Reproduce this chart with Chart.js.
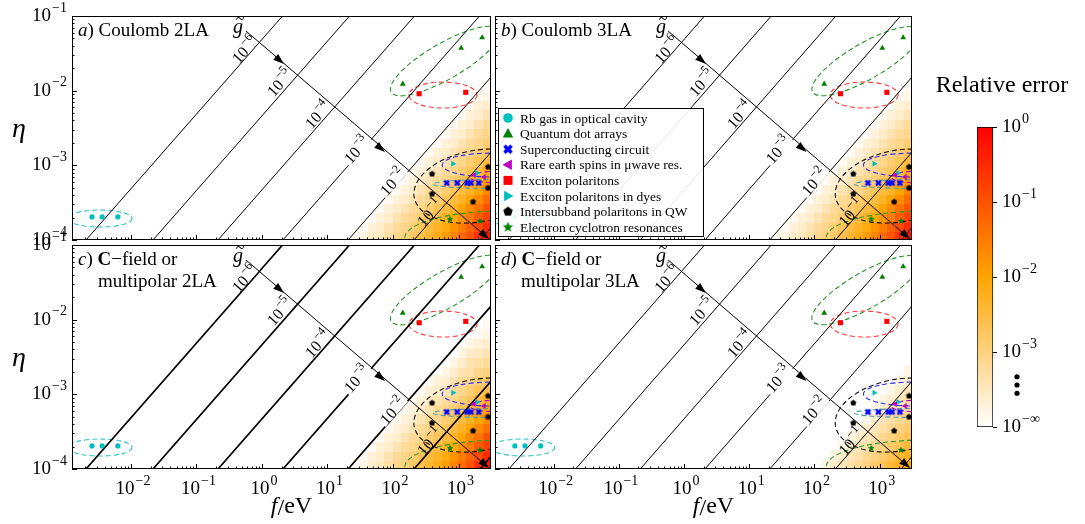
<!DOCTYPE html>
<html>
<head>
<meta charset="utf-8">
<script src="https://cdn.jsdelivr.net/npm/chart.js@4/dist/chart.umd.min.js"></script>
<style>
  body { margin: 0; background: #fff; }
  #wrap { position: relative; width: 1085px; height: 524px; }
  canvas { position: absolute; left: 0; top: 0; }
</style>
</head>
<body>
<div id="wrap">
  <canvas id="pa" width="1085" height="524"></canvas>
  <canvas id="pb" width="1085" height="524"></canvas>
  <canvas id="pc" width="1085" height="524"></canvas>
  <canvas id="pd" width="1085" height="524"></canvas>
  <canvas id="cb" width="1085" height="524"></canvas>
</div>
<script>
// axis ranges
const fMin = 1.26e-3, fMax = 3.13e3, etaMin = 1e-4, etaMax = 1e-1;
const xTickExp = [-2, -1, 0, 1, 2, 3];
const yTickExp = [-1, -2, -3, -4];

// g~ contour lines (endpoints at eta = 1e-4 and eta = 1e-1)
const gLineFBottom = [2.06e-3, 2.17e-2, 0.213, 2.09, 20.6, 209, 2130];
const gLineFTop = [2.06, 21.7, 213, 2090, 20600, 209000, 2130000];
const gLabelExp = ['−6', '−5', '−4', '−3', '−2', '−1'];
const gLabelF = [0.55, 1.88, 7.16, 28.2, 100, 367];
const gLabelEta = [3.51e-2, 1.27e-2, 4.72e-3, 1.6e-3, 5.98e-4, 2.3e-4];
const gLabelGap = [true, true, true, true, true, false];

// arrow of increasing g~
const arrowF = [0.57, 2925];
const arrowEta = [0.063, 1.03e-4];
const arrowHeadF = [2.17, 75.5, 2925];
const arrowHeadEta = [0.0228, 1.51e-3, 1.03e-4];

// experiments (f in eV, eta)
const seriesNames = ['Rb gas in optical cavity', 'Quantum dot arrays', 'Superconducting circuit',
  'Rare earth spins in μwave res.', 'Exciton polaritons', 'Exciton polaritons in dyes',
  'Intersubband polaritons in QW', 'Electron cyclotron resonances'];
const rbF = [2.54e-3, 3.63e-3, 6.31e-3], rbEta = [2.04e-4, 2.04e-4, 2.04e-4];
const qdF = [141, 1096, 2291], qdEta = [1.23e-2, 3.72e-2, 5.13e-2];
const scF = [661, 955, 1349, 1549, 2042], scEta = [5.8e-4, 5.8e-4, 5.8e-4, 5.8e-4, 5.8e-4];
const reF = [1726, 2449], reEta = [7.4e-4, 7.0e-4];
const exF = [251, 1288], exEta = [9.1e-3, 9.5e-3];
const dyF = [824, 1914], dyEta = [1.05e-3, 7.9e-4];
const isbF = [394, 394, 1663, 2818, 2818], isbEta = [7.66e-4, 4.13e-4, 3.24e-4, 9.5e-4, 4.98e-4];
const ecrF = [741, 2128], ecrEta = [1.9e-4, 1.8e-4];

// dashed ellipses: centre f, centre eta, half axes in decades, angle (deg)
const ellF = [3.37e-3, 622, 579, 1986, 3243, 3606, 4266, 5129];
const ellEta = [1.94e-4, 0.0249, 8.75e-3, 5.28e-4, 1.01e-3, 5.62e-4, 6.98e-4, 1.07e-4];
const ellRx = [0.49, 0.95, 0.52, 0.99, 0.76, 0.95, 0.46, 1.53];
const ellRy = [0.114, 0.24, 0.174, 0.48, 0.16, 0.06, 0.08, 0.36];
const ellAng = [0, -30, 0, -10, 0, 0, 0, 0];
const ellColor = ['#33c4c4', '#2a962a', '#ff3a3a', '#111111', '#2a2aff', '#4f9cab', '#c000c0', '#2a962a'];

// relative error maps, log10 values; one row per eta band (from 1e-4 up),
// each row lists the non-zero cells ending at the right edge of the plot
const heatFEdges = [13.3, 17.8, 23.7, 31.6, 42.2, 56.2, 75.0, 100, 133, 178, 237, 316, 422, 562, 750, 1000, 1334, 1778, 2371, 3162];
const heatEtaEdges = [1e-4, 1.33e-4, 1.78e-4, 2.37e-4, 3.16e-4, 4.22e-4, 5.62e-4, 7.5e-4, 1e-3, 1.33e-3,
  1.78e-3, 2.37e-3, 3.16e-3, 4.22e-3, 5.62e-3, 7.5e-3, 1e-2, 1.33e-2, 1.78e-2, 2.37e-2];
const heatA = [
  [-3.9, -3.8, -3.6, -3.5, -3.3, -3.1, -3.0, -2.8, -2.6, -2.4, -2.2, -1.9, -1.6, -1.3, -1.0, -0.6, -0.2],
  [-3.9, -3.7, -3.6, -3.4, -3.2, -3.1, -2.9, -2.7, -2.5, -2.3, -2.1, -1.8, -1.5, -1.2, -0.9, -0.5],
  [-3.9, -3.7, -3.6, -3.4, -3.2, -3.1, -2.9, -2.7, -2.5, -2.3, -2.1, -1.8, -1.5, -1.1, -0.8],
  [-3.9, -3.7, -3.6, -3.4, -3.2, -3.1, -2.9, -2.7, -2.5, -2.3, -2.0, -1.7, -1.4, -1.0],
  [-3.9, -3.7, -3.6, -3.4, -3.2, -3.1, -2.9, -2.7, -2.5, -2.3, -2.0, -1.7, -1.3],
  [-3.9, -3.7, -3.6, -3.4, -3.2, -3.1, -2.9, -2.7, -2.5, -2.3, -2.0, -1.6],
  [-3.9, -3.7, -3.6, -3.4, -3.2, -3.1, -2.9, -2.7, -2.5, -2.3, -1.9],
  [-3.9, -3.7, -3.6, -3.4, -3.2, -3.1, -2.9, -2.7, -2.5, -2.2],
  [-3.9, -3.7, -3.6, -3.4, -3.2, -3.1, -2.9, -2.7, -2.5],
  [-3.9, -3.7, -3.6, -3.4, -3.2, -3.1, -2.9, -2.7],
  [-3.9, -3.7, -3.6, -3.4, -3.2, -3.1, -2.9],
  [-3.9, -3.7, -3.6, -3.4, -3.2, -3.1],
  [-3.9, -3.7, -3.6, -3.4, -3.2],
  [-3.9, -3.7, -3.6, -3.4],
  [-3.9, -3.7, -3.6],
  [-3.9, -3.8],
  [-3.9],
  [],
  []
];
const heatB = [
  [-3.9, -3.8, -3.6, -3.5, -3.3, -3.1, -3.0, -2.8, -2.6, -2.4, -2.2, -1.9, -1.6, -1.3, -1.0, -0.6, -0.2],
  [-3.9, -3.7, -3.6, -3.4, -3.2, -3.1, -2.9, -2.7, -2.5, -2.3, -2.1, -1.8, -1.5, -1.2, -0.9, -0.5],
  [-3.9, -3.7, -3.6, -3.4, -3.2, -3.1, -2.9, -2.7, -2.5, -2.3, -2.1, -1.8, -1.5, -1.1, -0.8],
  [-3.9, -3.7, -3.6, -3.4, -3.2, -3.1, -2.9, -2.7, -2.5, -2.3, -2.0, -1.7, -1.4, -1.0],
  [-3.9, -3.7, -3.6, -3.4, -3.2, -3.1, -2.9, -2.7, -2.5, -2.3, -2.0, -1.7, -1.3],
  [-3.9, -3.7, -3.6, -3.4, -3.2, -3.1, -2.9, -2.7, -2.5, -2.3, -2.0, -1.6],
  [-3.9, -3.7, -3.6, -3.4, -3.2, -3.1, -2.9, -2.7, -2.5, -2.3, -1.9],
  [-3.9, -3.7, -3.6, -3.4, -3.2, -3.1, -2.9, -2.7, -2.5, -2.2],
  [-3.9, -3.7, -3.6, -3.4, -3.2, -3.1, -2.9, -2.7, -2.5],
  [-3.9, -3.7, -3.6, -3.4, -3.2, -3.1, -2.9, -2.7],
  [-3.9, -3.7, -3.6, -3.4, -3.2, -3.1, -2.9],
  [-3.9, -3.7, -3.6, -3.4, -3.2, -3.1],
  [-3.9, -3.7, -3.6, -3.4, -3.2],
  [-3.9, -3.7, -3.6, -3.4],
  [-3.9, -3.7, -3.6],
  [-3.9, -3.8],
  [-3.9],
  [],
  []
];
const heatC = [
  [-3.9, -3.8, -3.6, -3.5, -3.3, -3.1, -3.0, -2.8, -2.6, -2.4, -2.2, -1.9, -1.6, -1.3, -1.0, -0.6, -0.2],
  [-3.9, -3.7, -3.6, -3.4, -3.2, -3.1, -2.9, -2.7, -2.5, -2.3, -2.1, -1.8, -1.5, -1.2, -0.9, -0.5],
  [-3.9, -3.7, -3.6, -3.4, -3.2, -3.1, -2.9, -2.7, -2.5, -2.3, -2.1, -1.8, -1.5, -1.1, -0.8],
  [-3.9, -3.7, -3.6, -3.4, -3.2, -3.1, -2.9, -2.7, -2.5, -2.3, -2.0, -1.7, -1.4, -1.0],
  [-3.9, -3.7, -3.6, -3.4, -3.2, -3.1, -2.9, -2.7, -2.5, -2.3, -2.0, -1.7, -1.4],
  [-3.9, -3.7, -3.6, -3.4, -3.2, -3.1, -2.9, -2.7, -2.5, -2.3, -2.0, -1.7],
  [-3.9, -3.7, -3.6, -3.4, -3.2, -3.1, -2.9, -2.7, -2.5, -2.3, -2.0],
  [-3.9, -3.7, -3.6, -3.4, -3.2, -3.1, -2.9, -2.7, -2.5, -2.3],
  [-3.9, -3.7, -3.6, -3.4, -3.2, -3.1, -2.9, -2.7, -2.6],
  [-3.9, -3.7, -3.6, -3.4, -3.2, -3.1, -2.9, -2.8],
  [-3.8, -3.6, -3.4, -3.3, -3.1, -3.0],
  [-3.8, -3.6, -3.4, -3.3, -3.2],
  [-3.8, -3.6, -3.5, -3.4],
  [-3.8, -3.7, -3.6],
  [-3.9, -3.8],
  [-3.9],
  [],
  [],
  []
];
const heatD = [
  [-3.8, -3.6, -3.45, -3.3, -3.15, -3.0, -2.85, -2.65, -2.45, -2.25, -2.0],
  [-3.8, -3.6, -3.45, -3.3, -3.15, -3.0, -2.85, -2.65, -2.45, -2.25],
  [-3.8, -3.6, -3.45, -3.3, -3.15, -3.0, -2.85, -2.65, -2.45],
  [-3.8, -3.6, -3.45, -3.3, -3.15, -3.0, -2.85, -2.65],
  [-3.8, -3.6, -3.45, -3.3, -3.15, -3.0, -2.85],
  [-3.8, -3.6, -3.45, -3.3, -3.15, -3.0],
  [-3.8, -3.6, -3.45, -3.3, -3.15],
  [-3.8, -3.6, -3.45, -3.3],
  [-3.8, -3.6, -3.45],
  [-3.8, -3.6],
  [-3.8],
  [], [], [], [], [], [], [], []
];

// colour bar
const cbTickVals = [0, -1, -2, -3, -4];
const cbTickExp = ['0', '−1', '−2', '−3', '−∞'];
const cbDotVals = [-3.33, -3.44, -3.55];

const SERIF = '"Liberation Serif", "DejaVu Serif", serif';
const CYAN = '#00bfbf', GREEN = '#008000', BLUE = '#0000ff', MAG = '#bf00bf', RED = '#ff0000';

function heatColor(v) {
  const t = Math.max(0, Math.min(1, (v + 4) / 4));
  let g, b;
  if (t < 0.5) { const s = t / 0.5; g = 255 - 90 * s; b = 255 * (1 - s); }
  else { const s = (t - 0.5) / 0.5; g = 165 * (1 - s); b = 0; }
  return 'rgb(255,' + Math.round(g) + ',' + Math.round(b) + ')';
}

function markerCanvas(kind, color, r) {
  const c = document.createElement('canvas');
  const s = Math.ceil(r * 2 + 2);
  c.width = s; c.height = s;
  const g = c.getContext('2d');
  g.fillStyle = color;
  g.translate(s / 2, s / 2);
  g.beginPath();
  if (kind === 'pent') {
    for (let i = 0; i < 5; i++) {
      const a = -Math.PI / 2 + i * 2 * Math.PI / 5;
      g.lineTo(r * Math.cos(a), r * Math.sin(a));
    }
    g.closePath();
  } else if (kind === 'star') {
    for (let i = 0; i < 10; i++) {
      const a = -Math.PI / 2 + i * Math.PI / 5;
      const rr = i % 2 ? r * 0.45 : r;
      g.lineTo(rr * Math.cos(a), rr * Math.sin(a));
    }
    g.closePath();
  } else {
    const t = r * 0.36;
    g.rotate(Math.PI / 4);
    g.rect(-r, -t, 2 * r, 2 * t);
    g.rect(-t, -r, 2 * t, 2 * r);
  }
  g.fill();
  return c;
}

const pentSmall = markerCanvas('pent', '#000', 3.2);
const starSmall = markerCanvas('star', GREEN, 3.6);
const xSmall = markerCanvas('X', BLUE, 3.4);

const series = [
  { f: rbF, eta: rbEta, ps: 'circle', r: 2.6, color: CYAN },
  { f: qdF, eta: qdEta, ps: 'triangle', r: 3.4, color: GREEN },
  { f: scF, eta: scEta, ps: xSmall, r: 3, color: BLUE },
  { f: reF, eta: reEta, ps: 'triangle', r: 3.4, rot: -90, color: MAG },
  { f: exF, eta: exEta, ps: 'rect', r: 3.6, color: RED },
  { f: dyF, eta: dyEta, ps: 'triangle', r: 3.4, rot: 90, color: CYAN },
  { f: isbF, eta: isbEta, ps: pentSmall, r: 3, color: '#000' },
  { f: ecrF, eta: ecrEta, ps: starSmall, r: 3, color: GREEN }
];

// "10" with a superscript exponent
function pow10(ctx, x, y, exp, size, align) {
  const big = size + 'px ' + SERIF, small = Math.round(size * 0.72) + 'px ' + SERIF;
  ctx.font = big;
  const wb = ctx.measureText('10').width;
  ctx.font = small;
  const we = ctx.measureText(exp).width;
  const tot = wb + 1 + we;
  let x0 = x;
  if (align === 'right') x0 = x - tot;
  else if (align === 'center') x0 = x - tot / 2;
  ctx.textAlign = 'left';
  ctx.textBaseline = 'middle';
  ctx.font = big;
  ctx.fillText('10', x0, y);
  ctx.font = small;
  ctx.fillText(exp, x0 + wb + 1, y - size * 0.42);
  return tot;
}

function legendMarker(ctx, idx, x, y) {
  const s = series[idx];
  ctx.save();
  ctx.fillStyle = s.color;
  ctx.translate(x, y);
  const r = 5.5;
  if (s.ps === 'circle') {
    ctx.beginPath(); ctx.arc(0, 0, 4.8, 0, Math.PI * 2); ctx.fill();
  } else if (s.ps === 'triangle') {
    ctx.rotate((s.rot || 0) * Math.PI / 180);
    ctx.beginPath();
    ctx.moveTo(0, -r); ctx.lineTo(r * 0.95, r * 0.7); ctx.lineTo(-r * 0.95, r * 0.7);
    ctx.closePath(); ctx.fill();
  } else if (s.ps === 'rect') {
    ctx.fillRect(-4.5, -4.5, 9, 9);
  } else {
    const kind = idx === 2 ? 'X' : (idx === 6 ? 'pent' : 'star');
    const c = markerCanvas(kind, s.color, kind === 'star' ? 5.5 : 5);
    ctx.drawImage(c, -c.width / 2, -c.height / 2);
  }
  ctx.restore();
}

const panels = [
  { id: 'pa', pad: { left: 72, top: 16, right: 594, bottom: 284 }, heat: heatA, tag: 'a', lines: ['Coulomb 2LA'], yLab: true, xLab: false, legend: false, lw: 1 },
  { id: 'pb', pad: { left: 495, top: 16, right: 173, bottom: 284 }, heat: heatB, tag: 'b', lines: ['Coulomb 3LA'], yLab: false, xLab: false, legend: true, lw: 1 },
  { id: 'pc', pad: { left: 72, top: 245, right: 594, bottom: 55 }, heat: heatC, tag: 'c', lines: ['field or', 'multipolar 2LA'], bold: true, yLab: true, xLab: true, legend: false, lw: 1.7 },
  { id: 'pd', pad: { left: 495, top: 245, right: 173, bottom: 55 }, heat: heatD, tag: 'd', lines: ['field or', 'multipolar 3LA'], bold: true, yLab: false, xLab: true, legend: false, lw: 1 }
];

function makePanel(p) {
  const datasets = [];
  series.forEach(s => {
    datasets.push({
      data: s.f.map((f, i) => ({ x: f, y: s.eta[i] })),
      pointStyle: s.ps, pointRadius: s.r, pointRotation: s.rot || 0,
      backgroundColor: s.color, borderColor: s.color, borderWidth: 0, order: 1
    });
  });
  gLineFBottom.forEach((fb, i) => {
    datasets.push({
      data: [{ x: fb, y: etaMin }, { x: gLineFTop[i], y: etaMax }],
      showLine: true, borderColor: '#000', borderWidth: p.lw, pointRadius: 0, order: 2
    });
  });

  const deco = {
    id: 'deco',
    beforeDatasetsDraw(chart) {
      const ctx = chart.ctx, a = chart.chartArea, xs = chart.scales.x, ys = chart.scales.y;
      ctx.save();
      ctx.beginPath(); ctx.rect(a.left, a.top, a.right - a.left, a.bottom - a.top); ctx.clip();
      // relative error map
      const nCol = heatFEdges.length - 1;
      p.heat.forEach((row, j) => {
        const y0 = ys.getPixelForValue(heatEtaEdges[j]), y1 = ys.getPixelForValue(heatEtaEdges[j + 1]);
        row.forEach((v, k) => {
          const i = nCol - row.length + k;
          const x0 = xs.getPixelForValue(heatFEdges[i]), x1 = xs.getPixelForValue(heatFEdges[i + 1]);
          ctx.fillStyle = heatColor(v);
          ctx.fillRect(Math.floor(x0), Math.floor(y1), Math.ceil(x1 - x0) + 1, Math.ceil(y0 - y1) + 1);
        });
      });
      // dashed ellipses
      const dx = xs.getPixelForValue(10) - xs.getPixelForValue(1);
      const dy = ys.getPixelForValue(1e-3) - ys.getPixelForValue(1e-2);
      ctx.lineWidth = 1.1;
      ctx.setLineDash([5, 3]);
      ellF.forEach((f, k) => {
        ctx.strokeStyle = ellColor[k];
        ctx.beginPath();
        ctx.ellipse(xs.getPixelForValue(f), ys.getPixelForValue(ellEta[k]), ellRx[k] * dx, ellRy[k] * dy,
          ellAng[k] * Math.PI / 180, 0, Math.PI * 2);
        ctx.stroke();
      });
      ctx.restore();
    },
    afterDatasetsDraw(chart) {
      const ctx = chart.ctx, a = chart.chartArea, xs = chart.scales.x, ys = chart.scales.y;
      ctx.save();
      ctx.fillStyle = '#000';
      ctx.strokeStyle = '#000';
      // contour labels (inline, line broken under the label)
      const lineAng = Math.atan2(ys.getPixelForValue(1e-1) - ys.getPixelForValue(1e-4),
        xs.getPixelForValue(gLineFTop[0]) - xs.getPixelForValue(gLineFBottom[0]));
      gLabelF.forEach((f, k) => {
        ctx.save();
        ctx.translate(xs.getPixelForValue(f), ys.getPixelForValue(gLabelEta[k]));
        ctx.rotate(lineAng);
        if (gLabelGap[k]) {
          ctx.fillStyle = '#fff';
          ctx.fillRect(-17, -5, 34, 10);
        }
        ctx.fillStyle = '#000';
        pow10(ctx, 0, 1, gLabelExp[k], 16, 'center');
        ctx.restore();
      });
      // arrow with heads
      ctx.lineWidth = 1;
      const ax0 = xs.getPixelForValue(arrowF[0]), ay0 = ys.getPixelForValue(arrowEta[0]);
      const ax1 = xs.getPixelForValue(arrowF[1]), ay1 = ys.getPixelForValue(arrowEta[1]);
      ctx.beginPath(); ctx.moveTo(ax0, ay0); ctx.lineTo(ax1, ay1); ctx.stroke();
      const ang = Math.atan2(ay1 - ay0, ax1 - ax0);
      arrowHeadF.forEach((f, k) => {
        const hx = xs.getPixelForValue(f), hy = ys.getPixelForValue(arrowHeadEta[k]);
        ctx.save();
        ctx.translate(hx, hy); ctx.rotate(ang);
        ctx.beginPath(); ctx.moveTo(0, 0); ctx.lineTo(-11, -3.8); ctx.lineTo(-11, 3.8); ctx.closePath(); ctx.fill();
        ctx.restore();
      });
      // g~ label
      ctx.font = 'italic 20px ' + SERIF;
      ctx.textAlign = 'center'; ctx.textBaseline = 'alphabetic';
      ctx.fillText('g', a.left + 166, a.top + 17);
      ctx.font = '16px ' + SERIF;
      ctx.fillText('~', a.left + 168, a.top + 8);
      // frame and inward ticks
      ctx.lineWidth = 1;
      ctx.strokeRect(a.left + 0.5, a.top + 0.5, a.right - a.left - 1, a.bottom - a.top - 1);
      ctx.beginPath();
      for (let e = -3; e <= 3; e++) {
        for (let m = 1; m <= 9; m++) {
          const v = m * Math.pow(10, e);
          if (v < fMin || v > fMax) continue;
          const px = Math.round(xs.getPixelForValue(v)) + 0.5;
          const len = m === 1 ? 5 : 2.5;
          ctx.moveTo(px, a.bottom); ctx.lineTo(px, a.bottom - len);
        }
      }
      for (let e = -4; e <= -1; e++) {
        for (let m = 1; m <= 9; m++) {
          const v = m * Math.pow(10, e);
          if (v < etaMin || v > etaMax) continue;
          const py = Math.round(ys.getPixelForValue(v)) + 0.5;
          const len = m === 1 ? 5 : 2.5;
          ctx.moveTo(a.left, py); ctx.lineTo(a.left + len, py);
        }
      }
      ctx.stroke();
      // tick labels
      if (p.yLab) {
        yTickExp.forEach(e => pow10(ctx, a.left - 5, ys.getPixelForValue(Math.pow(10, e)), '−' + (-e), 19, 'right'));
        ctx.font = 'italic 28px ' + SERIF;
        ctx.textAlign = 'center'; ctx.textBaseline = 'middle';
        ctx.fillText('η', 19, (a.top + a.bottom) / 2 + 2);
      }
      if (p.xLab) {
        xTickExp.forEach(e => pow10(ctx, xs.getPixelForValue(Math.pow(10, e)) + 2, a.bottom + 20,
          e < 0 ? '−' + (-e) : String(e), 19, 'center'));
        const cx = (a.left + a.right) / 2 + 10, by = a.bottom + 44;
        ctx.textBaseline = 'alphabetic'; ctx.textAlign = 'left';
        ctx.font = 'italic 24px ' + SERIF;
        const wf = ctx.measureText('f').width;
        ctx.font = '24px ' + SERIF;
        const ws = ctx.measureText('/').width, we = ctx.measureText('eV').width;
        const x0 = cx - (wf + ws + we) / 2;
        ctx.font = 'italic 24px ' + SERIF; ctx.fillText('f', x0, by);
        ctx.font = '24px ' + SERIF; ctx.fillText('/', x0 + wf, by + 2); ctx.fillText('eV', x0 + wf + ws, by);
      }
      // panel title
      ctx.textAlign = 'left'; ctx.textBaseline = 'alphabetic';
      let tx = a.left + 6;
      const ty = a.top + 20;
      ctx.font = 'italic 19px ' + SERIF; ctx.fillText(p.tag, tx, ty);
      tx += ctx.measureText(p.tag).width;
      ctx.font = '19px ' + SERIF; ctx.fillText(') ', tx, ty);
      tx += ctx.measureText(') ').width;
      if (p.bold) {
        ctx.font = 'bold 19px ' + SERIF; ctx.fillText('C', tx, ty);
        tx += ctx.measureText('C').width;
        ctx.font = '19px ' + SERIF; ctx.fillText('−' + p.lines[0], tx, ty);
        ctx.fillText(p.lines[1], a.left + 26, ty + 22);
      } else {
        ctx.fillText(p.lines[0], tx, ty);
      }
      // legend
      if (p.legend) {
        const lx = a.left + 3, ly = a.top + 92, lw = 205, lh = 128;
        ctx.fillStyle = 'rgba(255,255,255,0.9)';
        ctx.fillRect(lx, ly, lw, lh);
        ctx.strokeStyle = '#000'; ctx.lineWidth = 1;
        ctx.strokeRect(lx + 0.5, ly + 0.5, lw, lh);
        seriesNames.forEach((name, k) => {
          const yy = ly + 10 + k * 15.6;
          legendMarker(ctx, k, lx + 10, yy);
          ctx.fillStyle = '#000';
          ctx.font = '13.5px ' + SERIF;
          ctx.textAlign = 'left'; ctx.textBaseline = 'middle';
          ctx.fillText(name, lx + 22, yy + 1);
        });
      }
      ctx.restore();
    }
  };

  new Chart(document.getElementById(p.id), {
    type: 'scatter',
    data: { datasets },
    options: {
      responsive: false, animation: false, events: [],
      layout: { padding: p.pad },
      scales: {
        x: { type: 'logarithmic', min: fMin, max: fMax, bounds: 'data', display: false },
        y: { type: 'logarithmic', min: etaMin, max: etaMax, bounds: 'data', display: false }
      },
      plugins: { legend: { display: false }, tooltip: { enabled: false } }
    },
    plugins: [deco]
  });
}

panels.forEach(makePanel);

// colour bar
new Chart(document.getElementById('cb'), {
  type: 'bar',
  data: {
    labels: ['err'],
    datasets: [{
      data: [[-4, 0]],
      backgroundColor: c => {
        const a = c.chart.chartArea;
        if (!a) return '#fff';
        const g = c.chart.ctx.createLinearGradient(0, a.bottom, 0, a.top);
        g.addColorStop(0, '#ffffff'); g.addColorStop(0.5, '#ffa500'); g.addColorStop(1, '#ff0000');
        return g;
      },
      borderColor: '#000', borderWidth: 1, borderSkipped: false,
      barPercentage: 1, categoryPercentage: 1
    }]
  },
  options: {
    responsive: false, animation: false, events: [],
    layout: { padding: { left: 977, right: 92, top: 127, bottom: 97 } },
    scales: { x: { display: false }, y: { min: -4, max: 0, display: false } },
    plugins: { legend: { display: false }, tooltip: { enabled: false } }
  },
  plugins: [{
    id: 'cbdeco',
    afterDraw(chart) {
      const ctx = chart.ctx, a = chart.chartArea, ys = chart.scales.y;
      ctx.save();
      ctx.fillStyle = '#000'; ctx.strokeStyle = '#000'; ctx.lineWidth = 1;
      ctx.beginPath();
      cbTickVals.forEach(v => {
        const y = Math.round(ys.getPixelForValue(v)) + 0.5;
        ctx.moveTo(a.right, y); ctx.lineTo(a.right + 4, y);
      });
      ctx.stroke();
      cbTickVals.forEach((v, k) => pow10(ctx, a.right + 9, ys.getPixelForValue(v), cbTickExp[k], 19, 'left'));
      cbDotVals.forEach(v => {
        ctx.beginPath(); ctx.arc(a.right + 24, ys.getPixelForValue(v), 2.6, 0, Math.PI * 2); ctx.fill();
      });
      ctx.font = '24px ' + SERIF;
      ctx.textAlign = 'center'; ctx.textBaseline = 'alphabetic';
      ctx.fillText('Relative error', a.left + 25, 92);
      ctx.restore();
    }
  }]
});
</script>
</body>
</html>
